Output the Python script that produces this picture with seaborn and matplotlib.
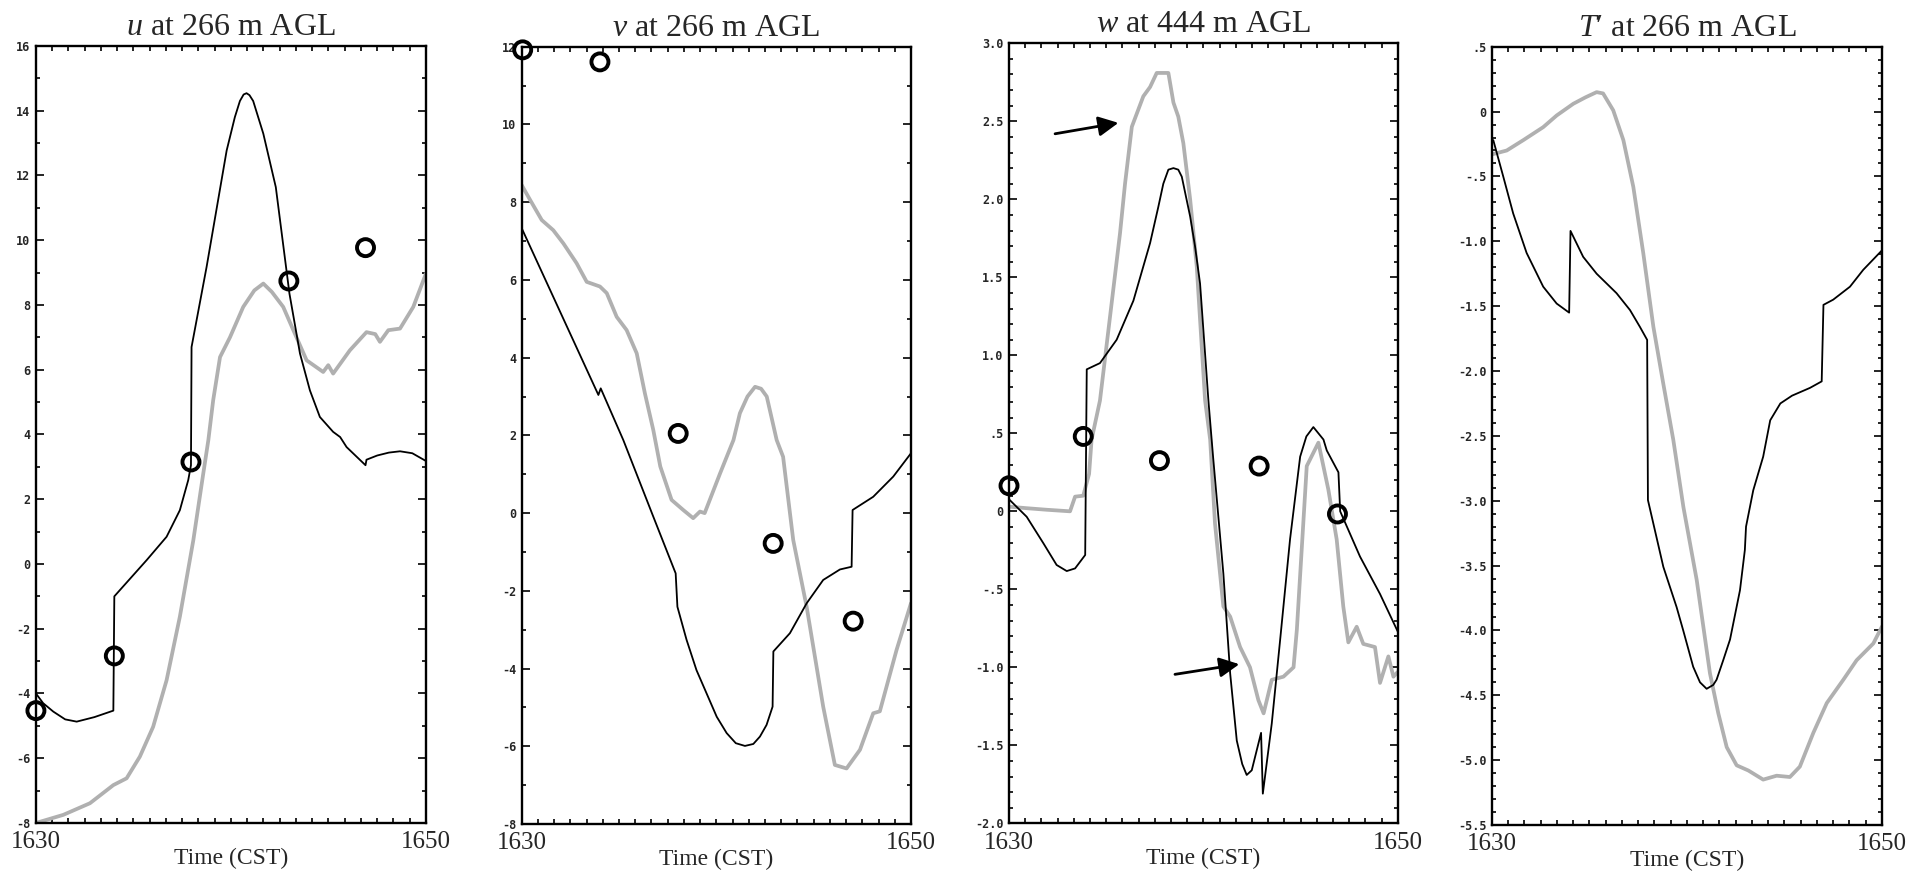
import numpy as np
import matplotlib
matplotlib.use("Agg")
import matplotlib.pyplot as plt
from matplotlib.ticker import FixedLocator, FixedFormatter
import seaborn as sns

# ---- data (time in minutes after 1630 CST) ----
# u at 266 m
u_model_t = [0, 0.37, 0.89, 1.5, 2.09, 3.0, 3.97, 4.02, 5.68, 6.70, 7.38, 7.81, 7.95, 7.98,
             8.75, 9.78, 10.2, 10.46, 10.65, 10.8, 10.95, 11.14, 11.66, 12.3, 13.0, 13.54,
             14.05, 14.56, 15.24, 15.6, 15.93, 16.9, 16.95, 17.5, 18.1, 18.67, 19.3, 20]
u_model = [-4.0, -4.3, -4.56, -4.8, -4.87, -4.73, -4.53, -1.0, 0.12, 0.84, 1.66, 2.59, 3.05, 6.7,
           9.17, 12.77, 13.8, 14.3, 14.5, 14.54, 14.48, 14.3, 13.29, 11.64, 8.35, 6.5,
           5.36, 4.54, 4.08, 3.92, 3.61, 3.05, 3.22, 3.35, 3.44, 3.48, 3.42, 3.18]
u_obs_t = [0, 1.4, 2.77, 3.97, 4.65, 5.33, 6.01, 6.70, 7.38, 8.07, 8.58, 8.84, 9.09, 9.44, 9.95,
           10.63, 11.2, 11.66, 12.1, 12.68, 13.2, 13.88, 14.73, 14.99, 15.24, 16.1, 16.95,
           17.4, 17.64, 18.07, 18.67, 19.35, 20]
u_obs = [-8.0, -7.75, -7.39, -6.83, -6.62, -5.95, -5.03, -3.59, -1.63, 0.73, 2.79, 3.82, 5.06,
         6.39, 7.0, 7.94, 8.45, 8.66, 8.4, 7.94, 7.22, 6.29, 5.93, 6.14, 5.88, 6.6, 7.16,
         7.1, 6.86, 7.22, 7.27, 7.94, 8.97]
u_pts_t = [0, 4.02, 7.95, 12.97, 16.9]
u_pts = [-4.53, -2.84, 3.15, 8.74, 9.77]

# v at 266 m
v_model_t = [0, 3.94, 4.06, 5.22, 6.76, 7.91, 8.0, 8.47, 8.98, 9.5, 10.02, 10.53, 11.0, 11.47,
             11.9, 12.24, 12.58, 12.89, 12.93, 13.78, 14.64, 15.49, 16.35, 16.95, 17.0, 18.06,
             19.09, 20]
v_model = [7.33, 3.04, 3.21, 1.88, -0.09, -1.55, -2.41, -3.26, -4.04, -4.64, -5.24, -5.66,
           -5.92, -5.99, -5.94, -5.75, -5.45, -4.98, -3.56, -3.09, -2.32, -1.72, -1.45, -1.38,
           0.08, 0.42, 0.94, 1.54]
v_obs_t = [0, 0.43, 1.03, 1.62, 2.14, 2.82, 3.34, 4.02, 4.37, 4.88, 5.39, 5.91, 6.33, 6.76, 7.12,
           7.70, 8.3, 8.81, 9.16, 9.4, 10.19, 10.88, 11.21, 11.6, 11.99, 12.3, 12.59, 13.1,
           13.43, 13.95, 14.64, 15.49, 16.09, 16.69, 17.38, 18.06, 18.4, 19.26, 20]
v_obs = [8.44, 8.06, 7.54, 7.28, 6.94, 6.43, 5.95, 5.83, 5.66, 5.05, 4.71, 4.11, 3.08, 2.14, 1.2,
         0.34, 0.08, -0.13, 0.04, 0.0, 1.02, 1.88, 2.57, 3.0, 3.25, 3.2, 3.0, 1.88, 1.45,
         -0.69, -2.41, -4.98, -6.48, -6.57, -6.09, -5.15, -5.1, -3.52, -2.32]
v_pts_t = [0.05, 4.02, 8.04, 12.92, 17.03]
v_pts = [11.92, 11.61, 2.05, -0.78, -2.78]

# w at 444 m
w_model_t = [0, 0.91, 1.77, 2.45, 2.97, 3.40, 3.92, 4.0, 4.68, 5.54, 6.40, 7.26, 7.68, 7.94,
             8.2, 8.46, 8.71, 8.89, 9.32, 9.57, 9.83, 10.26, 10.5, 11.03, 11.38, 11.72, 12.0,
             12.23, 12.49, 12.97, 13.06, 13.52, 13.95, 14.46, 14.98, 15.3, 15.66, 16.18,
             16.35, 16.95, 17.04, 18.06, 19.09, 20]
w_model = [0.077, -0.035, -0.205, -0.344, -0.383, -0.366, -0.28, 0.91, 0.95, 1.10, 1.35, 1.72,
           1.95, 2.10, 2.19, 2.20, 2.19, 2.145, 1.89, 1.70, 1.46, 0.71, 0.35, -0.40, -1.04,
           -1.47, -1.62, -1.69, -1.66, -1.42, -1.81, -1.36, -0.825, -0.18, 0.35, 0.48, 0.54,
           0.46, 0.39, 0.25, 0.0, -0.29, -0.53, -0.77]
w_obs_t = [0, 0.91, 1.94, 3.14, 3.40, 3.82, 4.12, 4.25, 4.68, 5.2, 5.71, 5.97, 6.32, 6.91, 7.26,
           7.60, 8.2, 8.46, 8.71, 8.97, 9.32, 9.66, 10.09, 10.35, 10.6, 11.03, 11.38, 11.89,
           12.40, 12.83, 13.1, 13.52, 14.12, 14.64, 14.81, 15.32, 15.92, 16.43, 16.86, 17.2,
           17.46, 17.89, 18.23, 18.83, 19.09, 19.52, 19.78, 20]
w_obs = [0.03, 0.02, 0.01, 0.0, 0.094, 0.10, 0.24, 0.46, 0.71, 1.25, 1.78, 2.10, 2.465, 2.66,
         2.72, 2.81, 2.81, 2.62, 2.53, 2.36, 2.0, 1.57, 0.71, 0.46, -0.08, -0.61, -0.675,
         -0.87, -1.0, -1.21, -1.295, -1.08, -1.06, -1.0, -0.76, 0.29, 0.44, 0.14, -0.18,
         -0.61, -0.84, -0.74, -0.85, -0.87, -1.10, -0.93, -1.06, -1.03]
w_pts_t = [0, 3.82, 7.74, 12.87, 16.9]
w_pts = [0.164, 0.48, 0.325, 0.29, -0.017]
# annotation arrows: (start_t, start_val, tip_t, tip_val)
w_arrows = [(2.37, 2.42, 5.63, 2.49), (8.54, -1.045, 11.85, -0.98)]

# T' at 266 m
t_model_t = [0.07, 0.58, 1.09, 1.78, 2.63, 3.32, 3.96, 4.03, 4.68, 5.37, 6.39, 7.08, 7.59, 7.96,
             8.0, 8.79, 9.47, 9.81, 10.32, 10.67, 11.01, 11.35, 11.52, 11.86, 12.21, 12.72,
             12.97, 13.03, 13.4, 13.91, 14.27, 14.79, 15.39, 16.31, 16.91, 17.0, 17.5, 18.36,
             19.04, 20]
t_model = [-0.22, -0.50, -0.785, -1.09, -1.35, -1.48, -1.55, -0.92, -1.12, -1.25, -1.40, -1.53,
           -1.66, -1.76, -2.995, -3.51, -3.82, -4.0, -4.28, -4.40, -4.45, -4.42, -4.38,
           -4.23, -4.07, -3.69, -3.38, -3.20, -2.92, -2.66, -2.38, -2.25, -2.19, -2.13,
           -2.08, -1.49, -1.45, -1.35, -1.22, -1.07]
t_obs_t = [0, 0.76, 1.61, 2.63, 3.32, 4.17, 4.8, 5.37, 5.7, 6.22, 6.74, 7.25, 7.76, 8.28, 8.79,
           9.3, 9.82, 10.5, 11.18, 11.61, 12.04, 12.55, 13.15, 13.91, 14.6, 15.28, 15.79,
           16.48, 17.17, 18.02, 18.7, 19.56, 20]
t_obs = [-0.33, -0.30, -0.22, -0.12, -0.03, 0.06, 0.11, 0.15, 0.14, 0.01, -0.22, -0.58, -1.09,
         -1.66, -2.10, -2.53, -3.05, -3.61, -4.33, -4.64, -4.90, -5.04, -5.08, -5.15, -5.12,
         -5.13, -5.05, -4.79, -4.56, -4.38, -4.23, -4.10, -3.97]

titles = [r"$\it{u}$ at 266 m AGL", r"$\it{v}$ at 266 m AGL",
          r"$\it{w}$ at 444 m AGL", r"$\it{T}$′ at 266 m AGL"]
x_ticklabels = ["1630", "1650"]
u_yticks = list(range(-8, 17, 2))
u_ylabels = [str(v) for v in u_yticks]
v_yticks = list(range(-8, 13, 2))
v_ylabels = [str(v) for v in v_yticks]
w_yticks = [-2.0, -1.5, -1.0, -0.5, 0.0, 0.5, 1.0, 1.5, 2.0, 2.5, 3.0]
w_ylabels = ["-2.0", "-1.5", "-1.0", "-.5", "0", ".5", "1.0", "1.5", "2.0", "2.5", "3.0"]
t_yticks = [-5.5, -5.0, -4.5, -4.0, -3.5, -3.0, -2.5, -2.0, -1.5, -1.0, -0.5, 0.0, 0.5]
t_ylabels = ["-5.5", "-5.0", "-4.5", "-4.0", "-3.5", "-3.0", "-2.5", "-2.0", "-1.5", "-1.0",
             "-.5", "0", ".5"]

sns.set_style("white")
plt.rcParams["font.family"] = ["Liberation Serif", "DejaVu Serif"]
plt.rcParams["mathtext.fontset"] = "custom"
plt.rcParams["mathtext.rm"] = "Liberation Serif"
plt.rcParams["mathtext.it"] = "Liberation Serif:italic"

fig = plt.figure(figsize=(19.11, 8.80), dpi=100)
boxes = [(0.0188, 0.0648, 0.2041, 0.8830),
         (0.2730, 0.0636, 0.2037, 0.8833),
         (0.5280, 0.0644, 0.2034, 0.8864),
         (0.7807, 0.0625, 0.2041, 0.8844)]

panels = [
    (u_model_t, u_model, u_obs_t, u_obs, u_pts_t, u_pts, u_yticks, u_ylabels, 1.0),
    (v_model_t, v_model, v_obs_t, v_obs, v_pts_t, v_pts, v_yticks, v_ylabels, 1.0),
    (w_model_t, w_model, w_obs_t, w_obs, w_pts_t, w_pts, w_yticks, w_ylabels, 0.1),
    (t_model_t, t_model, t_obs_t, t_obs, None, None, t_yticks, t_ylabels, 0.1),
]

for i, (mt, mv, ot, ov, pt, pv, yt, yl, minor) in enumerate(panels):
    ax = fig.add_axes(boxes[i])
    sns.lineplot(x=ot, y=ov, ax=ax, color="#b0b0b0", lw=2.7, sort=False, estimator=None)
    sns.lineplot(x=mt, y=mv, ax=ax, color="black", lw=1.3, sort=False, estimator=None)
    if pt is not None:
        sns.scatterplot(x=pt, y=pv, ax=ax, marker="o", s=150, facecolors="none",
                        edgecolors="black", linewidths=2.8, clip_on=False, zorder=5)
    if i == 2:
        for (x0, y0, x1, y1) in w_arrows:
            ax.annotate("", xy=(x1, y1), xytext=(x0, y0),
                        arrowprops=dict(arrowstyle="-|>", color="black", lw=2,
                                        mutation_scale=30, shrinkA=0, shrinkB=0))
    ax.set_xlim(0, 20)
    ax.set_ylim(yt[0], yt[-1])
    ax.set_ylabel("")
    # y ticks
    ax.yaxis.set_major_locator(FixedLocator(yt))
    ax.yaxis.set_major_formatter(FixedFormatter(yl))
    ax.yaxis.set_minor_locator(FixedLocator(np.arange(yt[0], yt[-1] + 1e-9, minor)))
    # x ticks
    ax.xaxis.set_major_locator(FixedLocator([0, 20]))
    ax.xaxis.set_major_formatter(FixedFormatter(x_ticklabels))
    ax.xaxis.set_minor_locator(FixedLocator(np.linspace(0, 20, 25)))
    ax.tick_params(axis="both", which="both", direction="in", top=True, right=True,
                   bottom=True, left=True, color="black", width=1.2)
    ax.tick_params(axis="y", which="major", length=5.5, pad=4)
    ax.tick_params(axis="y", which="minor", length=3)
    ax.tick_params(axis="x", which="major", length=0, pad=6, labelsize=18)
    ax.tick_params(axis="x", which="minor", length=3.5)
    for lab in ax.get_yticklabels():
        lab.set_fontfamily("DejaVu Sans Mono")
        lab.set_fontweight("bold")
        lab.set_fontsize(8.5)
    for sp in ax.spines.values():
        sp.set_linewidth(1.7)
        sp.set_color("black")
    ax.set_title(titles[i], fontsize=23, pad=8)
    ax.set_xlabel("Time (CST)", fontsize=17)
    ax.xaxis.set_label_coords(0.5, -0.032)

fig.savefig("out.png", dpi=100, facecolor="white")
